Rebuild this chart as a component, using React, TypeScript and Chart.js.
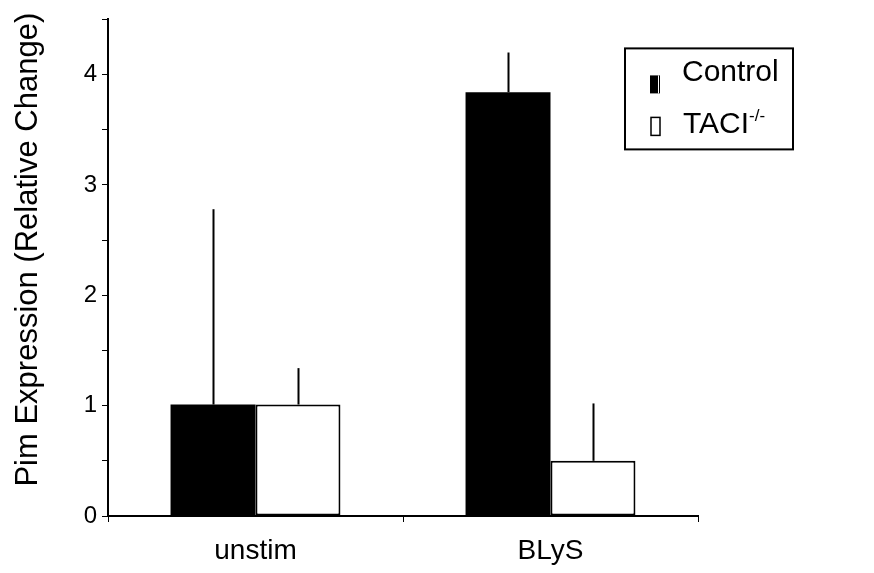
import React, { useEffect, useRef } from "react";
import { Chart, registerables } from "chart.js";

Chart.register(...registerables);

const categories = ["unstim", "BLyS"];
const seriesNames = ["Control", "TACI"];
const controlValues = [1.01, 3.84];
const taciValues = [1.01, 0.5];
const controlErrors = [1.77, 0.36];
const taciErrors = [0.33, 0.52];
const yTickValues = [0, 1, 2, 3, 4];
const yAxisTitle = "Pim Expression (Relative Change)";

const FONT = "'Liberation Sans', Arial, sans-serif";

const errorBarPlugin = {
  id: "errorBars",
  afterDatasetsDraw(chart: any) {
    const ctx = chart.ctx;
    const yScale = chart.scales.y;
    const allErrors = [controlErrors, taciErrors];
    const allValues = [controlValues, taciValues];
    ctx.save();
    ctx.strokeStyle = "#000";
    ctx.lineWidth = 2;
    allErrors.forEach((errs, di) => {
      const meta = chart.getDatasetMeta(di);
      meta.data.forEach((el: any, i: number) => {
        const top = yScale.getPixelForValue(allValues[di][i] + errs[i]);
        ctx.beginPath();
        ctx.moveTo(Math.round(el.x) + 0.5, el.y);
        ctx.lineTo(Math.round(el.x) + 0.5, top);
        ctx.stroke();
      });
    });
    ctx.restore();
  },
};

const decorPlugin = {
  id: "decor",
  afterDraw(chart: any) {
    const ctx = chart.ctx;
    const area = chart.chartArea;
    ctx.save();
    // Y axis title
    ctx.fillStyle = "#000";
    ctx.font = `31px ${FONT}`;
    ctx.textAlign = "center";
    ctx.textBaseline = "middle";
    ctx.translate(area.left - 80, (area.top + area.bottom) / 2 - 18);
    ctx.rotate(-Math.PI / 2);
    ctx.fillText(yAxisTitle, 0, 0);
    ctx.restore();

    // Legend
    ctx.save();
    const bx = area.right - 73;
    const by = area.top + 29;
    const bw = 168;
    const bh = 101;
    ctx.fillStyle = "#fff";
    ctx.fillRect(bx, by, bw, bh);
    ctx.strokeStyle = "#000";
    ctx.lineWidth = 2;
    ctx.strokeRect(bx, by, bw, bh);

    // Control marker
    ctx.fillStyle = "#000";
    ctx.fillRect(bx + 25, by + 27, 10, 18);
    ctx.fillStyle = "#fff";
    ctx.fillRect(bx + 33, by + 27, 1, 18);
    // TACI marker
    ctx.fillStyle = "#fff";
    ctx.fillRect(bx + 26, by + 69, 9, 18);
    ctx.strokeStyle = "#000";
    ctx.lineWidth = 1.5;
    ctx.strokeRect(bx + 26, by + 69, 9, 18);

    ctx.fillStyle = "#000";
    ctx.textAlign = "left";
    ctx.textBaseline = "alphabetic";
    ctx.font = `30px ${FONT}`;
    ctx.fillText(seriesNames[0], bx + 57, by + 33);
    ctx.fillText(seriesNames[1], bx + 58, by + 85);
    const w = ctx.measureText(seriesNames[1]).width;
    ctx.font = `17px ${FONT}`;
    ctx.fillText("-/-", bx + 58 + w, by + 73);
    ctx.restore();
  },
};

export default function App() {
  const canvasRef = useRef<HTMLCanvasElement | null>(null);

  useEffect(() => {
    if (!canvasRef.current) return;
    const chart = new Chart(canvasRef.current, {
      type: "bar",
      data: {
        labels: categories,
        datasets: [
          {
            label: seriesNames[0],
            data: controlValues,
            backgroundColor: "#000",
            borderColor: "#000",
            borderWidth: 0,
            barPercentage: 1,
            categoryPercentage: 0.576,
          },
          {
            label: seriesNames[1],
            data: taciValues,
            backgroundColor: "#fff",
            borderColor: "#000",
            borderWidth: 2,
            borderSkipped: false,
            barPercentage: 1,
            categoryPercentage: 0.576,
          },
        ],
      },
      options: {
        animation: false,
        responsive: true,
        maintainAspectRatio: false,
        layout: { padding: { top: 18, right: 176, left: 0, bottom: 0 } },
        plugins: {
          legend: { display: false },
          tooltip: { enabled: false },
          title: { display: false },
        },
        scales: {
          x: {
            offset: true,
            grid: {
              offset: true,
              drawOnChartArea: false,
              drawTicks: true,
              tickLength: 6,
              color: "#000",
              lineWidth: 1,
            },
            border: { display: true, color: "#000", width: 2 },
            ticks: {
              color: "#000",
              font: { family: FONT, size: 28 },
              padding: 12,
              maxRotation: 0,
            },
            afterFit(scale: any) {
              scale.height = 57;
            },
          },
          y: {
            min: 0,
            max: 4.5,
            grid: {
              drawOnChartArea: false,
              drawTicks: true,
              tickLength: 6,
              color: "#000",
              lineWidth: 1,
            },
            border: { display: true, color: "#000", width: 2 },
            ticks: {
              stepSize: 0.5,
              color: "#000",
              font: { family: FONT, size: 24 },
              padding: 5,
              callback: (v: any) =>
                yTickValues.includes(Number(v)) ? String(v) : "",
            },
            afterFit(scale: any) {
              scale.width = 108;
            },
          },
        },
      },
      plugins: [errorBarPlugin, decorPlugin],
    });
    return () => chart.destroy();
  }, []);

  return (
    <div
      style={{
        position: "absolute",
        left: 0,
        top: 0,
        width: 874,
        height: 573,
        background: "#fff",
      }}
    >
      <canvas ref={canvasRef} />
    </div>
  );
}
